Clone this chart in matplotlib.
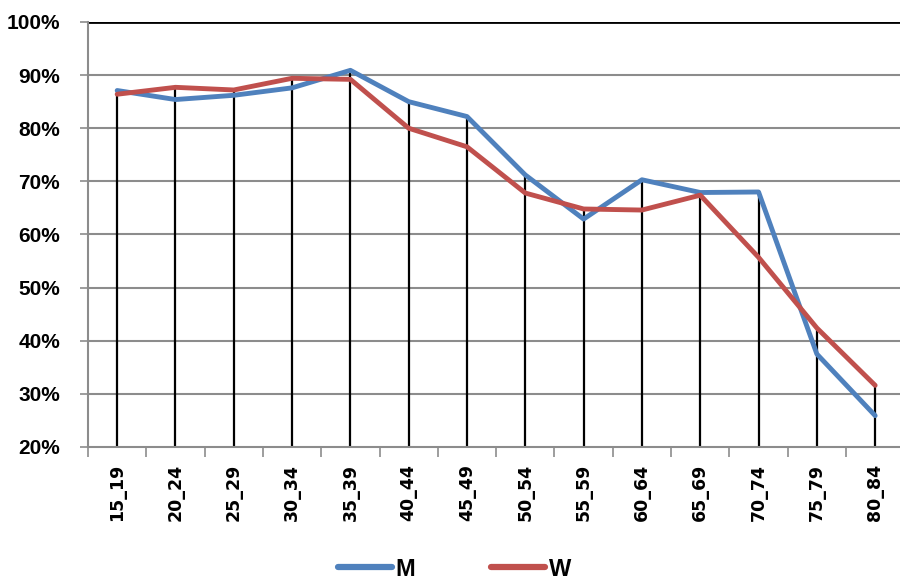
import numpy as np
import matplotlib.pyplot as plt
from matplotlib.ticker import FixedLocator, PercentFormatter

age_groups = ["15_19", "20_24", "25_29", "30_34", "35_39", "40_44", "45_49",
              "50_54", "55_59", "60_64", "65_69", "70_74", "75_79", "80_84"]
men = [87.1, 85.4, 86.2, 87.6, 90.9, 85.0, 82.2,
       71.2, 62.9, 70.3, 67.9, 68.0, 37.5, 25.9]
women = [86.4, 87.7, 87.2, 89.4, 89.2, 80.0, 76.5,
         67.8, 64.8, 64.6, 67.4, 55.7, 42.4, 31.6]

narrow = ["Liberation Sans Narrow", "Liberation Sans", "DejaVu Sans"]

fig = plt.figure(figsize=(9, 5.83), dpi=100)
ax = fig.add_axes([0.0978, 0.2333, 0.907, 0.729])

x = np.arange(len(age_groups))
ymin = 20

# grid
for v in range(30, 100, 10):
    ax.axhline(v, color="#8c8c8c", lw=1.5, zorder=1)
ax.axhline(100, color="black", lw=2, zorder=1)

# drop lines to the axis
tops = np.maximum(men, women)
ax.vlines(x, ymin, tops, color="black", lw=1.6, zorder=2)

ax.plot(x, men, color="#4F81BD", lw=3.5, label="M", zorder=3,
        solid_capstyle="round")
ax.plot(x, women, color="#C0504D", lw=3.5, label="W", zorder=4,
        solid_capstyle="round")

ax.set_xlim(-0.5, len(age_groups) - 0.5)
ax.set_ylim(ymin, 100)

ax.set_yticks(range(20, 101, 10))
ax.yaxis.set_major_formatter(PercentFormatter(decimals=0))
for lbl in ax.get_yticklabels():
    lbl.set_fontfamily(narrow)
    lbl.set_fontweight("bold")
    lbl.set_fontsize(15)
ax.tick_params(axis="y", length=6, width=1.2, color="#8c8c8c", pad=14)

ax.set_xticks(x)
ax.set_xticklabels(age_groups, rotation=90, fontsize=12.5, fontweight="bold",
                   family="DejaVu Sans")
ax.xaxis.set_minor_locator(FixedLocator(np.arange(-0.5, len(age_groups), 1)))
ax.tick_params(axis="x", which="major", length=0, pad=12)
ax.tick_params(axis="x", which="minor", length=7, width=1.2, color="#8c8c8c")

for side in ["top", "right"]:
    ax.spines[side].set_visible(False)
ax.spines["left"].set_color("#8c8c8c")
ax.spines["left"].set_linewidth(1.5)
ax.spines["bottom"].set_color("#8c8c8c")
ax.spines["bottom"].set_linewidth(1.5)

leg = fig.legend(loc="center", bbox_to_anchor=(0.505, 0.024), ncol=2,
                 frameon=False, handlelength=2.3, columnspacing=3.2,
                 handletextpad=0.15,
                 prop={"family": narrow, "weight": "bold", "size": 17})
for h in leg.get_lines():
    h.set_linewidth(4.5)

fig.savefig("out.png", dpi=100)
